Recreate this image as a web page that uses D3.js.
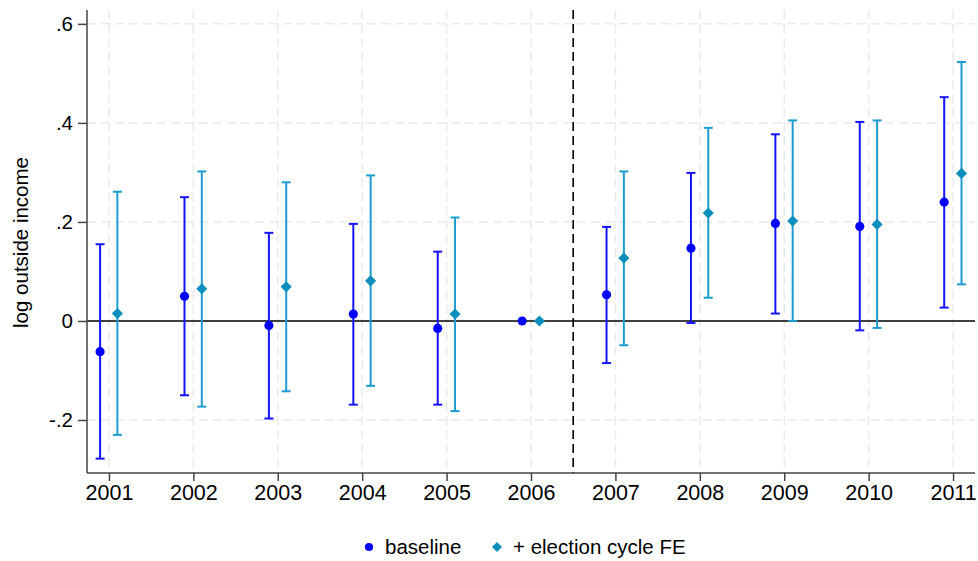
<!DOCTYPE html>
<html>
<head>
<meta charset="utf-8">
<script src="https://cdn.jsdelivr.net/npm/d3@7"></script>
<style>
  body { margin: 0; background: #fff; }
  text { font-family: "Liberation Sans", Arial, sans-serif; fill: #000; }
</style>
</head>
<body>
<script>
const years = [2001, 2002, 2003, 2004, 2005, 2006, 2007, 2008, 2009, 2010, 2011];

// baseline estimates and 95% CI
const baseEst = [-0.062, 0.050, -0.009, 0.014, -0.015, 0, 0.053, 0.147, 0.197, 0.191, 0.240];
const baseLo  = [-0.278, -0.150, -0.197, -0.169, -0.169, 0, -0.085, -0.004, 0.015, -0.019, 0.027];
const baseHi  = [0.155, 0.250, 0.178, 0.196, 0.140, 0, 0.190, 0.299, 0.377, 0.402, 0.452];

// + election cycle FE
const feEst = [0.015, 0.065, 0.069, 0.081, 0.014, 0, 0.127, 0.218, 0.202, 0.195, 0.298];
const feLo  = [-0.230, -0.173, -0.142, -0.131, -0.182, 0, -0.049, 0.047, 0.000, -0.014, 0.074];
const feHi  = [0.261, 0.302, 0.280, 0.294, 0.209, 0, 0.302, 0.390, 0.405, 0.405, 0.523];

const yTicks = [-0.2, 0, 0.2, 0.4, 0.6];
const yTickLabels = ["-.2", "0", ".2", ".4", ".6"];
const eventYear = 2006.5;

const width = 978, height = 561;
const plot = {left: 87, right: 975, top: 10, bottom: 473};

const svg = d3.select("body").append("svg")
    .attr("width", width)
    .attr("height", height);

const x = d3.scaleLinear().domain([2000.74, 2011.26]).range([plot.left, plot.right]);
const y = d3.scaleLinear().domain([-0.307, 0.628]).range([plot.bottom, plot.top]);

// grid
const grid = svg.append("g");
grid.selectAll(null)
    .data(yTicks.filter(d => d !== 0))
    .join("line")
    .attr("x1", plot.left).attr("x2", plot.right)
    .attr("y1", d => y(d)).attr("y2", d => y(d))
    .attr("stroke", "#eaeaea").attr("stroke-width", 1.5)
    .attr("stroke-dasharray", "9,5");
grid.selectAll(null)
    .data(years)
    .join("line")
    .attr("x1", d => x(d)).attr("x2", d => x(d))
    .attr("y1", plot.top).attr("y2", plot.bottom)
    .attr("stroke", "#eaeaea").attr("stroke-width", 1.5)
    .attr("stroke-dasharray", "9,5");

// zero line and event line
svg.append("line")
    .attr("x1", plot.left).attr("x2", plot.right)
    .attr("y1", y(0)).attr("y2", y(0))
    .attr("stroke", "#000").attr("stroke-width", 1.5);
svg.append("line")
    .attr("x1", x(eventYear)).attr("x2", x(eventYear))
    .attr("y1", plot.top).attr("y2", plot.bottom)
    .attr("stroke", "#000").attr("stroke-width", 1.6)
    .attr("stroke-dasharray", "9,5");

// axes
const yAxis = svg.append("g")
    .attr("transform", `translate(${plot.left},0)`)
    .call(d3.axisLeft(y).tickValues(yTicks)
        .tickFormat((d, i) => yTickLabels[i]).tickSize(9).tickPadding(5));
const xAxis = svg.append("g")
    .attr("transform", `translate(0,${plot.bottom})`)
    .call(d3.axisBottom(x).tickValues(years)
        .tickFormat(d3.format("d")).tickSize(8).tickPadding(4));

[yAxis, xAxis].forEach(g => {
    g.select(".domain").attr("stroke", "#444").attr("stroke-width", 1.5);
    g.selectAll(".tick line").attr("stroke", "#444").attr("stroke-width", 1.5);
    g.selectAll(".tick text").attr("fill", "#000")
        .style("font-family", "'Liberation Sans', Arial, sans-serif");
});
yAxis.selectAll(".tick text").attr("font-size", 20.5);
xAxis.selectAll(".tick text").attr("font-size", 21.5);
xAxis.select(".domain").attr("d", `M${plot.left},0H${plot.right}`);
yAxis.select(".domain").attr("d", `M0,${plot.bottom}V${plot.top}`);

svg.append("text")
    .attr("transform", `translate(28,${(plot.top + plot.bottom) / 2 + 1}) rotate(-90)`)
    .attr("text-anchor", "middle")
    .attr("font-size", 20.5)
    .text("log outside income");

// series
const diamond = {
    draw(ctx, size) {
        const r = Math.sqrt(size / 2);
        ctx.moveTo(0, -r); ctx.lineTo(r, 0); ctx.lineTo(0, r); ctx.lineTo(-r, 0); ctx.closePath();
    }
};
const series = [
    {name: "baseline", est: baseEst, lo: baseLo, hi: baseHi, dx: -0.105,
     color: "#0000ff", ci: "#1414ff", symbol: d3.symbolCircle, size: 66},
    {name: "+ election cycle FE", est: feEst, lo: feLo, hi: feHi, dx: 0.1,
     color: "#0a8fbd", ci: "#1d9ccf", symbol: diamond, size: 62}
];

series.forEach(s => {
    const g = svg.append("g");
    const rows = years.map((yr, i) => ({yr, est: s.est[i], lo: s.lo[i], hi: s.hi[i]}));
    const ciRows = rows.filter(r => r.hi !== r.lo);
    g.selectAll(null).data(ciRows).join("line")
        .attr("x1", d => x(d.yr + s.dx)).attr("x2", d => x(d.yr + s.dx))
        .attr("y1", d => y(d.lo)).attr("y2", d => y(d.hi))
        .attr("stroke", s.ci).attr("stroke-width", 2);
    ["lo", "hi"].forEach(k => {
        g.selectAll(null).data(ciRows).join("line")
            .attr("x1", d => x(d.yr + s.dx) - 4.5).attr("x2", d => x(d.yr + s.dx) + 4.5)
            .attr("y1", d => y(d[k])).attr("y2", d => y(d[k]))
            .attr("stroke", s.ci).attr("stroke-width", 2);
    });
    g.selectAll(null).data(rows).join("path")
        .attr("d", d3.symbol().type(s.symbol).size(s.size))
        .attr("transform", d => `translate(${x(d.yr + s.dx)},${y(d.est)})`)
        .attr("fill", s.color);
});

// legend
const legend = svg.append("g").attr("transform", "translate(0,547)");
const legendX = [{sx: 369, tx: 385}, {sx: 497, tx: 513}];
series.forEach((s, i) => {
    legend.append("path")
        .attr("d", d3.symbol().type(s.symbol).size(s.size * 0.8))
        .attr("transform", `translate(${legendX[i].sx},0)`)
        .attr("fill", s.color);
    legend.append("text")
        .attr("x", legendX[i].tx).attr("y", 0)
        .attr("dy", "0.36em")
        .attr("font-size", 20.5)
        .text(s.name);
});
</script>
</body>
</html>
